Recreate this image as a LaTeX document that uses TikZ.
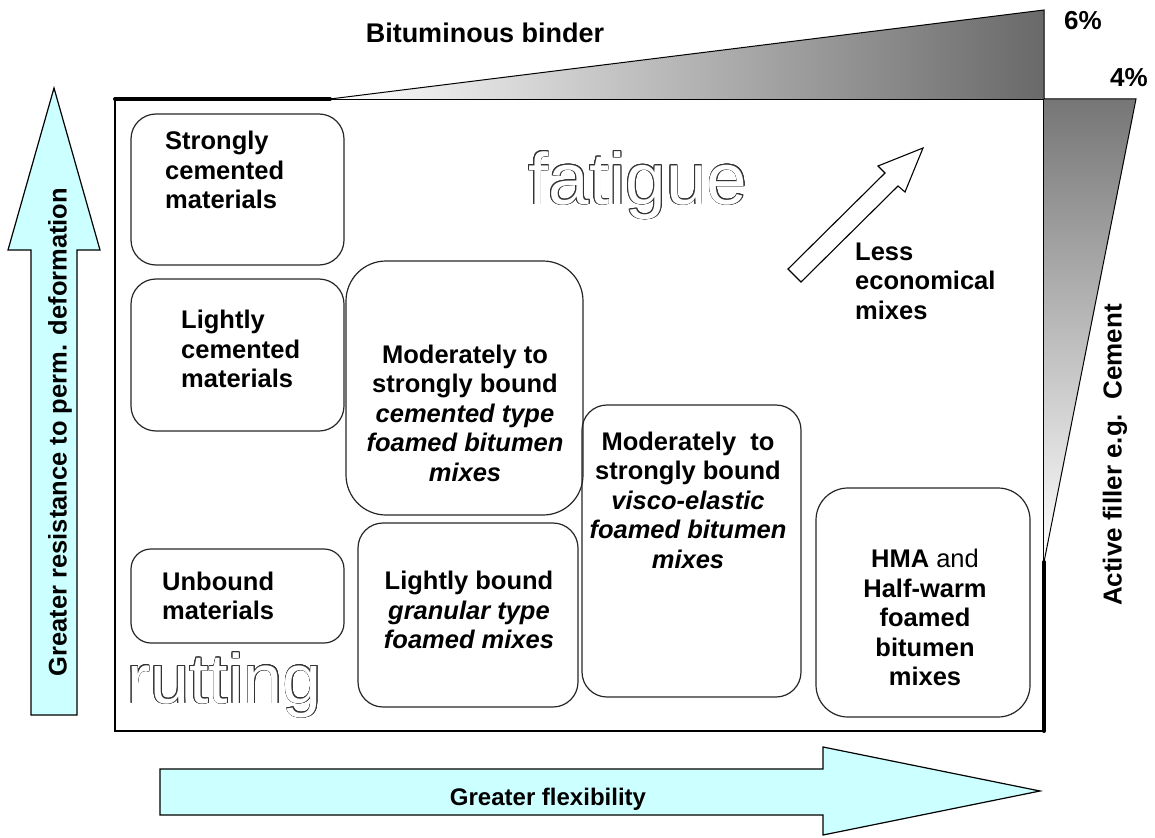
\documentclass[tikz,border=0pt]{standalone}
\usepackage{fontspec}
\setmainfont{Liberation Sans}
\usetikzlibrary{calc}
\definecolor{arrowcyan}{RGB}{204,255,255}
\definecolor{wedgedark}{RGB}{105,105,105}
\definecolor{wedgedarkb}{RGB}{118,118,118}
\newcommand\bodyfont{\fontsize{25.5}{29.5}\selectfont\bfseries}
\newcommand\bigoutfont{\fontsize{73}{80}\selectfont}
\newcommand\rutfont{\fontsize{70}{76}\selectfont}
\tikzset{
  box/.style={draw=black!85, line width=1.2pt, inner sep=0pt},
  txt/.style={font=\bodyfont, inner sep=0pt, align=center},
  ltxt/.style={font=\bodyfont, inner sep=0pt, align=left, anchor=west},
  bigarrow/.style={draw=black, line width=1.2pt, fill=arrowcyan},
  thickline/.style={line width=4pt, line cap=round},
}
\begin{document}
\begin{tikzpicture}[x=1pt,y=-1pt]
\useasboundingbox (0,0) rectangle (1155,837);

% main frame
\draw[line width=1.2pt] (115,99) rectangle (1044,731);

% top wedge (bituminous binder)
\shade[left color=white, right color=wedgedark] (330,99) -- (1044,10) -- (1044,99) -- cycle;
\draw[line width=1pt] (330,99) -- (1044,10) -- (1044,99);
% right wedge (active filler)
\shade[top color=wedgedarkb, bottom color=white] (1044,99) -- (1136,99) -- (1044,562) -- cycle;
\draw[line width=1pt] (1044,99) -- (1136,99) -- (1044,562);
% thick lines
\draw[thickline] (115,99) -- (330,99);
\draw[thickline] (1044,562) -- (1044,731);

\node[font=\fontsize{27}{30}\selectfont\bfseries, inner sep=0pt] (binder) at (485,33) {Bituminous binder};
\node[font=\fontsize{26}{30}\selectfont\bfseries, inner sep=0pt] (six) at (1083,21) {6\%};
\node[font=\fontsize{26}{30}\selectfont\bfseries, inner sep=0pt] (four) at (1129,78) {4\%};

% boxes
\node[box, rounded corners=25pt, minimum width=213pt, minimum height=151pt] (b1) at (237.5,189.5) {};
\node[box, rounded corners=25pt, minimum width=213pt, minimum height=152pt] (b2) at (237.5,355) {};
\node[box, rounded corners=20pt, minimum width=213pt, minimum height=94pt] (b3) at (237.5,596) {};
\node[box, rounded corners=40pt, minimum width=237pt, minimum height=254pt] (b4) at (464.5,388) {};
\node[box, rounded corners=25pt, minimum width=220pt, minimum height=184pt] (b5) at (468,615) {};
\node[box, rounded corners=25pt, minimum width=219pt, minimum height=292pt] (b6) at (691.5,551) {};
\node[box, rounded corners=32pt, minimum width=214pt, minimum height=229pt] (b7) at (923,602.5) {};

% box texts
\node[ltxt] (t1) at (165,170) {Strongly\\cemented\\materials};
\node[ltxt] (t2) at (181,349) {Lightly\\cemented\\materials};
\node[ltxt] (t3) at (162,596) {Unbound\\materials};
\node[txt] (t4) at (465,413) {Moderately to\\strongly bound\\\textit{cemented type}\\\textit{foamed bitumen}\\\textit{mixes}};
\node[txt] (t5) at (469,610) {Lightly bound\\\textit{granular type}\\\textit{foamed mixes}};
\node[txt] (t6) at (688,500) {Moderately\ \ to\\strongly bound\\\textit{visco-elastic}\\\textit{foamed bitumen}\\\textit{mixes}};
\node[txt] (t7) at (925,617.5) {HMA \textmd{and}\\Half-warm\\foamed\\bitumen\\mixes};
\node[ltxt] (t8) at (855,281) {Less\\economical\\mixes};

% hollow arrow
\draw[line width=1.1pt, fill=white] (788,269) -- (885,173) -- (878,166) -- (923,148) -- (905,192) -- (898,186) -- (801,282) -- cycle;

% outline texts
\foreach \a in {0,22.5,...,337.5} {
  \node[font=\bigoutfont, text=black!80, inner sep=0pt, anchor=base west] (fo\a) at ($(528,204)+(\a:0.75)$) {fatigue};
  \node[font=\rutfont, text=black!80, inner sep=0pt, anchor=base west] (ru\a) at ($(127,703)+(\a:0.75)$) {rutting};
}
\node[font=\bigoutfont, text=white, inner sep=0pt, anchor=base west] (fatigue) at (528,204) {fatigue};
\node[font=\rutfont, text=white, inner sep=0pt, anchor=base west] (rutting) at (127,703) {rutting};

% big cyan arrows
\draw[bigarrow] (31,715) -- (31,250) -- (8,250) -- (54,88) -- (100,250) -- (77,250) -- (77,715) -- cycle;
\draw[bigarrow] (160,769) -- (823,769) -- (823,747) -- (1040,791) -- (823,835) -- (823,815) -- (160,815) -- cycle;

\node[font=\fontsize{25.5}{30}\selectfont\bfseries, inner sep=0pt, rotate=90] (ylab) at (60,432) {Greater resistance to perm. deformation};
\node[font=\fontsize{24}{30}\selectfont\bfseries, inner sep=0pt] (xlab) at (548,799) {Greater flexibility};
\node[font=\fontsize{26}{30}\selectfont\bfseries, inner sep=0pt, rotate=90] (filler) at (1115,455) {Active filler e.g.\ \ Cement};
\end{tikzpicture}
\end{document}
